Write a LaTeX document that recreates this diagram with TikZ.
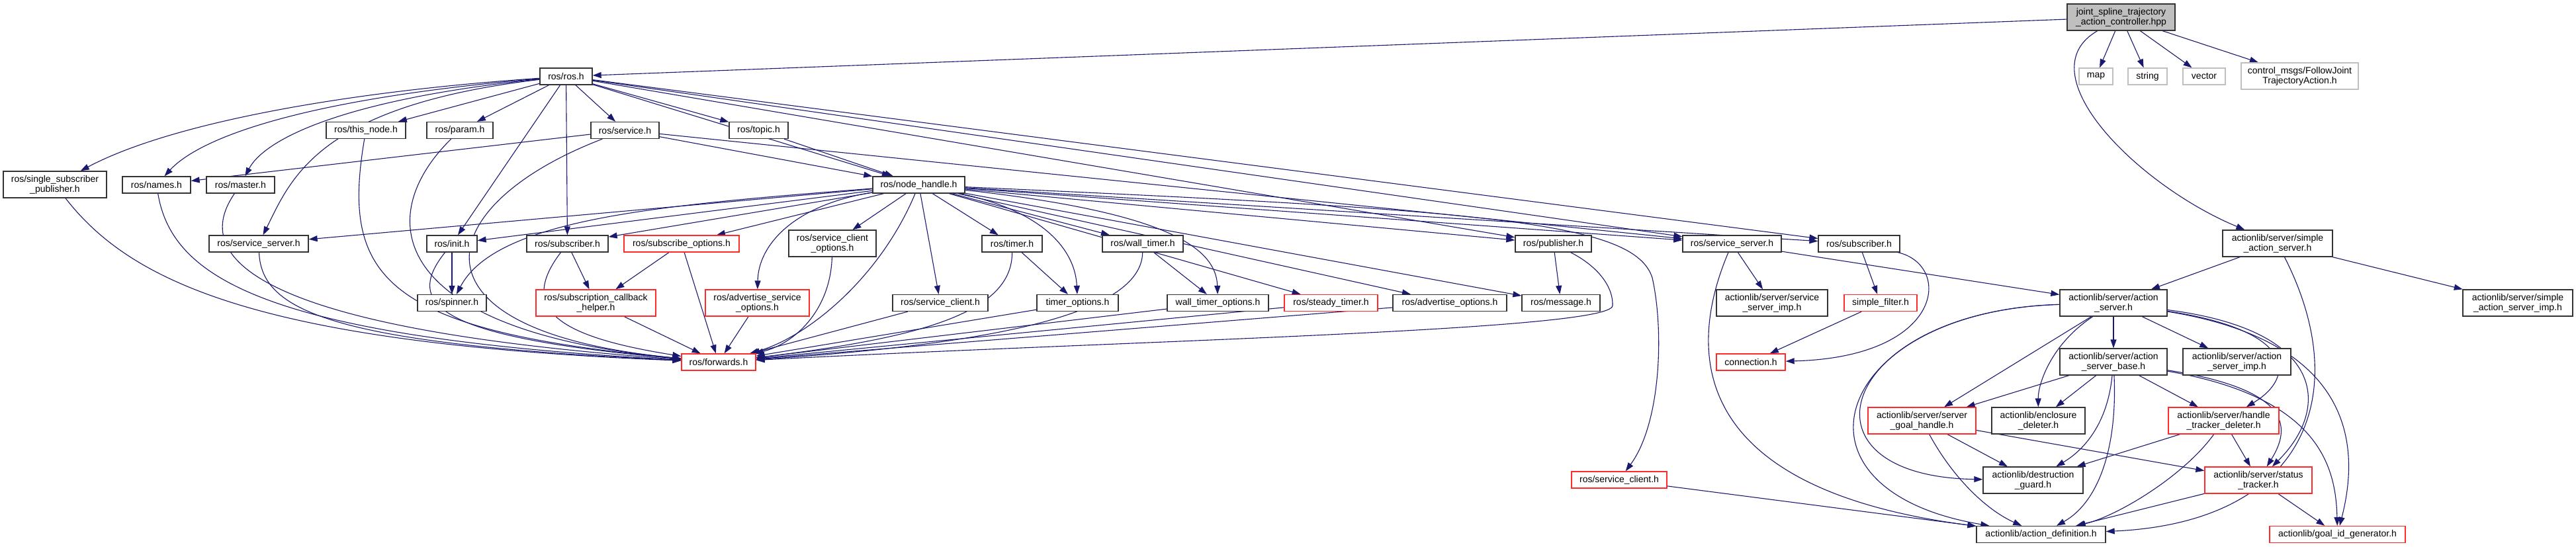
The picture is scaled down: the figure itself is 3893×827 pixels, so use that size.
\documentclass[tikz,border=0pt]{standalone}
\usepackage{fontspec}
\newfontfamily\lsans{Liberation Sans}
\usetikzlibrary{arrows.meta,backgrounds}
\definecolor{edgec}{HTML}{191970}
\definecolor{redc}{HTML}{FF2A2A}
\definecolor{grayc}{HTML}{BFBFBF}
\definecolor{blk}{HTML}{333333}
\tikzset{
  box/.style={draw=blk, line width=1.3pt, fill=white, minimum height=25pt, inner sep=0pt, align=center,
    font=\lsans\fontsize{14}{15}\selectfont},
  two/.style={minimum height=40pt},
  redbox/.style={box, draw=redc},
  graybox/.style={box, draw=grayc},
  e/.style={draw=edgec, line width=1.1pt, -{Triangle[length=13pt,width=9pt]}, fill=none},
}
\begin{document}
\begin{tikzpicture}[x=1pt,y=-1pt]
\useasboundingbox (0,0) rectangle (3893,827);
% ---- nodes ----
\node[box, two, fill=grayc, minimum width=163pt] (main) at (3205.5,26) {joint\_spline\_trajectory\\\_action\_controller.hpp};
\node[graybox, minimum width=51pt] (mapn) at (3167.5,115.5) {map};
\node[graybox, minimum width=59pt] (strn) at (3245.5,115.5) {string};
\node[graybox, minimum width=64pt] (vecn) at (3331,115.5) {vector};
\node[graybox, two, minimum width=177pt] (cmsg) at (3475.5,115) {control\_msgs/FollowJoint\\TrajectoryAction.h};
\node[box, minimum width=79pt] (rosh) at (855.5,115.5) {ros/ros.h};
\node[box, minimum width=120pt] (thisn) at (553,197) {ros/this\_node.h};
\node[box, minimum width=100pt] (param) at (695,197) {ros/param.h};
\node[box, minimum width=103pt] (srvh) at (944.5,197) {ros/service.h};
\node[box, minimum width=89pt] (topic) at (1146.5,197) {ros/topic.h};
\node[box, two, minimum width=156pt] (ssp) at (83,279) {ros/single\_subscriber\\\_publisher.h};
\node[box, minimum width=103pt] (names) at (236.5,279.5) {ros/names.h};
\node[box, minimum width=103pt] (master) at (363.5,279.5) {ros/master.h};
\node[box, minimum width=139pt] (nh) at (1388.5,279.5) {ros/node\_handle.h};
\node[box, minimum width=150pt] (ssL) at (391,368.5) {ros/service\_server.h};
\node[box, minimum width=76pt] (init) at (683,368.5) {ros/init.h};
\node[box, minimum width=123pt] (subL) at (857.5,368.5) {ros/subscriber.h};
\node[redbox, minimum width=174pt] (subopt) at (1030,368.5) {ros/subscribe\_options.h};
\node[box, two, minimum width=132pt] (sco) at (1258,368) {ros/service\_client\\\_options.h};
\node[box, minimum width=91pt] (timer) at (1529.5,368.5) {ros/timer.h};
\node[box, minimum width=122pt] (wtimer) at (1727,368.5) {ros/wall\_timer.h};
\node[box, minimum width=115pt] (pub) at (2347.5,368.5) {ros/publisher.h};
\node[box, minimum width=149pt] (ssR) at (2617.5,368.5) {ros/service\_server.h};
\node[box, minimum width=123pt] (subR) at (2809.5,368.5) {ros/subscriber.h};
\node[box, two, minimum width=166pt] (sas) at (3442,368) {actionlib/server/simple\\\_action\_server.h};
\node[box, minimum width=104pt] (spin) at (683,458) {ros/spinner.h};
\node[redbox, two, minimum width=181pt] (sch) at (900.5,458) {ros/subscription\_callback\\\_helper.h};
\node[redbox, two, minimum width=157pt] (aso) at (1144.5,458) {ros/advertise\_service\\\_options.h};
\node[box, minimum width=144pt] (scb) at (1421,458) {ros/service\_client.h};
\node[box, minimum width=123pt] (topt) at (1628.5,458) {timer\_options.h};
\node[box, minimum width=153pt] (wto) at (1840.5,458) {wall\_timer\_options.h};
\node[redbox, minimum width=141pt] (steady) at (2011.5,458) {ros/steady\_timer.h};
\node[box, minimum width=172pt] (adv) at (2191,458) {ros/advertise\_options.h};
\node[box, minimum width=118pt] (msg) at (2359,458) {ros/message.h};
\node[box, two, minimum width=168pt] (ssimp) at (2678,458) {actionlib/server/service\\\_server\_imp.h};
\node[redbox, minimum width=110pt] (sfilt) at (2842,458) {simple\_filter.h};
\node[box, two, minimum width=162pt] (asrv) at (3194,458) {actionlib/server/action\\\_server.h};
\node[box, two, minimum width=166pt] (sasimp) at (3805,458) {actionlib/server/simple\\\_action\_server\_imp.h};
\node[redbox, minimum width=112pt] (fw) at (1086,547.5) {ros/forwards.h};
\node[redbox, minimum width=104pt] (conn) at (2646,547.5) {connection.h};
\node[box, two, minimum width=162pt] (asb) at (3194,547) {actionlib/server/action\\\_server\_base.h};
\node[box, two, minimum width=163pt] (asimp) at (3380.5,547) {actionlib/server/action\\\_server\_imp.h};
\node[redbox, two, minimum width=163pt] (sgh) at (2904.5,636) {actionlib/server/server\\\_goal\_handle.h};
\node[box, two, minimum width=141pt] (encl) at (3080.5,636) {actionlib/enclosure\\\_deleter.h};
\node[redbox, two, minimum width=167pt] (htd) at (3360.5,636) {actionlib/server/handle\\\_tracker\_deleter.h};
\node[redbox, minimum width=144pt] (scr) at (2447,725.5) {ros/service\_client.h};
\node[box, two, minimum width=151pt] (dg) at (3072.5,726) {actionlib/destruction\\\_guard.h};
\node[redbox, two, minimum width=162pt] (st) at (3413,726) {actionlib/server/status\\\_tracker.h};
\node[box, minimum width=195pt] (ad) at (3084.5,808) {actionlib/action\_definition.h};
\node[redbox, minimum width=205pt] (gid) at (3532.5,808) {actionlib/goal\_id\_generator.h};
\coordinate (scrvia) at (2497,420);
\coordinate (pubvia) at (2437,462);
\begin{scope}[on background layer]
% ---- edges from main ----
\draw[e] (main) -- (rosh);
\draw[e] (main) -- (mapn);
\draw[e] (main) -- (strn);
\draw[e] (main) -- (vecn);
\draw[e] (main) -- (cmsg);
\draw[e] (main) .. controls (3060,110) and (3230,280) .. (sas);
% ---- ros.h ----
\draw[e] (rosh) .. controls (500,140) and (250,190) .. (ssp);
\draw[e] (rosh) .. controls (450,150) and (300,210) .. (names);
\draw[e] (rosh) .. controls (520,150) and (400,210) .. (master);
\draw[e] (rosh) .. controls (480,160) and (440,270) .. (ssL);
\draw[e] (rosh) -- (thisn);
\draw[e] (rosh) -- (param);
\draw[e] (rosh) -- (init);
\draw[e] (rosh) -- (subL);
\draw[e] (rosh) -- (srvh);
\draw[e] (rosh) -- (topic);
\draw[e] (rosh) -- (nh);
\draw[e] (rosh) -- (pub);
\draw[e] (rosh) -- (ssR);
\draw[e] (rosh) -- (subR);
% ---- service.h, topic.h ----
\draw[e] (srvh) -- (names);
\draw[e] (srvh) -- (nh);
\draw[e] (srvh) -- (ssR);
\draw[e] (srvh) .. controls (650,310) and (600,500) .. (fw);
\draw[e] (topic) -- (nh);
% ---- node_handle ----
\draw[e] (nh) -- (ssL);
\draw[e] (nh) -- (init);
\draw[e] (nh) .. controls (1000,310) and (750,330) .. (spin);
\draw[e] (nh) -- (subL);
\draw[e] (nh) -- (subopt);
\draw[e] (nh) -- (sco);
\draw[e] (nh) .. controls (1200,310) and (1146,370) .. (aso);
\draw[e] (nh) .. controls (1330,420) and (1220,510) .. (fw);
\draw[e] (nh) -- (scb);
\draw[e] (nh) -- (timer);
\draw[e] (nh) .. controls (1580,320) and (1625,380) .. (topt);
\draw[e] (nh) -- (wtimer);
\draw[e] (nh) .. controls (1750,320) and (1838,370) .. (wto);
\draw[e] (nh) -- (steady);
\draw[e] (nh) -- (adv);
\draw[e] (nh) -- (msg);
\draw[e] (nh) -- (pub);
\draw[e] (nh) -- (ssR);
\draw[e] (nh) -- (subR);
\draw[e] (nh) .. controls (2250,318) and (2470,335) .. (scrvia) .. controls (2515,500) and (2510,640) .. (scr);
% ---- into forwards (left group) ----
\draw[e] (ssp) .. controls (200,430) and (400,520) .. (fw);
\draw[e] (names) .. controls (260,420) and (400,510) .. (fw);
\draw[e] (master) .. controls (280,400) and (420,500) .. (fw);
\draw[e] (ssL) .. controls (395,470) and (500,520) .. (fw);
\draw[e] (thisn) .. controls (515,420) and (580,500) .. (fw);
\draw[e] (param) .. controls (560,330) and (590,500) .. (fw);
\draw[e] (init) .. controls (610,460) and (660,510) .. (fw);
\draw[e] (init) -- (spin);
\draw[e] (subL) -- (sch);
\draw[e] (subL) .. controls (780,470) and (850,510) .. (fw);
\draw[e] (subopt) -- (sch);
\draw[e] (subopt) -- (fw);
\draw[e] (sch) -- (fw);
\draw[e] (aso) -- (fw);
\draw[e] (sco) .. controls (1255,470) and (1200,520) .. (fw);
% ---- into forwards (right group) ----
\draw[e] (scb) -- (fw);
\draw[e] (timer) -- (topt);
\draw[e] (timer) .. controls (1530,470) and (1400,510) .. (fw);
\draw[e] (topt) -- (fw);
\draw[e] (wtimer) -- (wto);
\draw[e] (wtimer) .. controls (1725,475) and (1500,520) .. (fw);
\draw[e] (wto) -- (fw);
\draw[e] (steady) -- (fw);
\draw[e] (adv) -- (fw);
\draw[e] (pub) -- (msg);
\draw[e] (pub) .. controls (2410,400) and (2438,430) .. (pubvia) .. controls (2436,500) and (1700,515) .. (fw);
% ---- right part ----
\draw[e] (ssR) -- (ssimp);
\draw[e] (ssR) .. controls (2545,540) and (2560,740) .. (ad);
\draw[e] (ssR) -- (asrv);
\draw[e] (subR) -- (sfilt);
\draw[e] (subR) .. controls (2950,400) and (2940,540) .. (conn);
\draw[e] (sfilt) -- (conn);
\draw[e] (scr) -- (ad);
\draw[e] (sas) -- (asrv);
\draw[e] (sas) -- (sasimp);
\draw[e] (sas) .. controls (3560,600) and (3480,790) .. (ad);
\draw[e] (asrv) -- (asb);
\draw[e] (asrv) -- (sgh);
\draw[e] (asrv) .. controls (3100,520) and (3080,580) .. (encl);
\draw[e] (asrv) .. controls (2780,470) and (2700,720) .. (dg);
\draw[e] (asrv) .. controls (2770,470) and (2680,740) .. (ad);
\draw[e] (asrv) -- (asimp);
\draw[e] (asrv) .. controls (3470,500) and (3470,570) .. (htd);
\draw[e] (asrv) .. controls (3520,500) and (3520,620) .. (st);
\draw[e] (asrv) .. controls (3580,520) and (3560,700) .. (gid);
\draw[e] (asb) -- (sgh);
\draw[e] (asb) -- (encl);
\draw[e] (asb) .. controls (3185,640) and (3150,680) .. (dg);
\draw[e] (asb) .. controls (3200,680) and (3170,760) .. (ad);
\draw[e] (asb) -- (htd);
\draw[e] (asb) .. controls (3470,590) and (3460,650) .. (st);
\draw[e] (asb) .. controls (3500,600) and (3530,700) .. (gid);
\draw[e] (sgh) -- (dg);
\draw[e] (sgh) .. controls (2950,720) and (3000,770) .. (ad);
\draw[e] (sgh) -- (st);
\draw[e] (htd) -- (dg);
\draw[e] (htd) .. controls (3300,720) and (3200,780) .. (ad);
\draw[e] (htd) -- (st);
\draw[e] (st) -- (ad);
\draw[e] (st) -- (gid);
\end{scope}
\end{tikzpicture}
\end{document}
